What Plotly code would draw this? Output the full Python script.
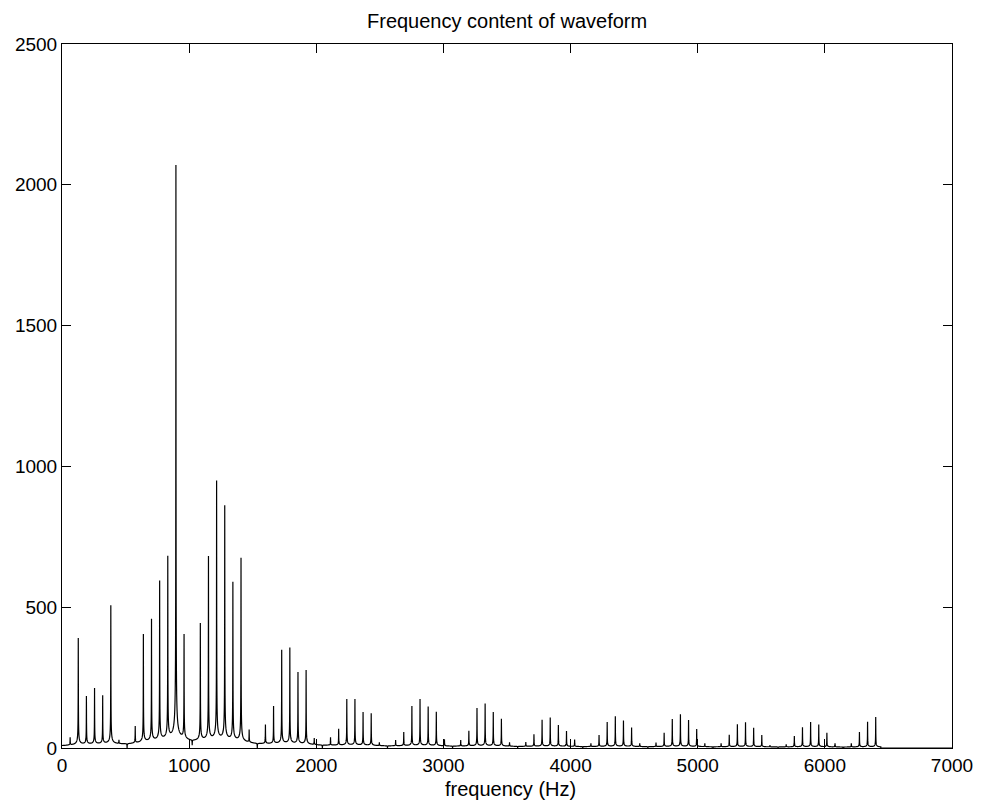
import numpy as np
import plotly.graph_objects as go

# Harmonic peak frequencies (Hz)
peak_freqs = [64, 128, 192, 256, 320, 384, 448, 512, 576, 640,
              704, 768, 832, 896, 960, 1024, 1088, 1152, 1216, 1280,
              1344, 1408, 1472, 1536, 1600, 1664, 1728, 1792, 1856, 1920,
              1984, 2048, 2112, 2176, 2240, 2304, 2368, 2432, 2496, 2560,
              2624, 2688, 2752, 2816, 2880, 2944, 3008, 3072, 3136, 3200,
              3264, 3328, 3392, 3456, 3520, 3584, 3648, 3712, 3776, 3840,
              3904, 3968, 4032, 4096, 4160, 4224, 4288, 4352, 4416, 4480,
              4544, 4608, 4672, 4736, 4800, 4864, 4928, 4992, 5056, 5120,
              5184, 5248, 5312, 5376, 5440, 5504, 5568, 5632, 5696, 5760,
              5824, 5888, 5952, 6016, 6080, 6144, 6208, 6272, 6336, 6400]

# Peak magnitudes
peak_amps = [38, 391, 185, 213, 187, 507, 29, 0, 78, 405,
             459, 595, 683, 2070, 405, 10, 444, 682, 950, 862,
             590, 676, 66, 0, 83, 149, 349, 357, 270, 277,
             35, 0, 38, 68, 174, 174, 128, 123, 20, 0,
             28, 57, 149, 174, 147, 129, 31, 0, 28, 61,
             142, 158, 128, 104, 20, 0, 21, 49, 100, 108,
             82, 60, 30, 0, 17, 46, 92, 113, 98, 73,
             17, 0, 19, 54, 103, 120, 99, 67, 17, 0,
             17, 47, 84, 91, 72, 46, 10, 0, 13, 43,
             74, 92, 83, 54, 17, 0, 17, 57, 93, 110]

x_ticks = [0, 1000, 2000, 3000, 4000, 5000, 6000, 7000]
y_ticks = [0, 500, 1000, 1500, 2000, 2500]

title_text = "Frequency content of waveform"
xlabel_text = "frequency (Hz)"

# Spectral line shape (leakage skirts) built around the read peaks,
# with weights solved so that each peak reaches exactly its read magnitude
g = 0.5
pf = np.array(peak_freqs, dtype=float)
pa = np.array(peak_amps, dtype=float)
M = g / np.sqrt((pf[:, None] - pf[None, :]) ** 2 + g ** 2)
w = np.linalg.solve(M, pa)
f = np.arange(0, 7000.5, 0.5)
mag = np.zeros_like(f)
for fk, wk in zip(pf, w):
    mag += wk * g / np.sqrt((f - fk) ** 2 + g ** 2)
mag = np.clip(mag, 0, None)
mag[f > pf[-1] + 40] = 0.0

fig = go.Figure()
fig.add_trace(go.Scatter(x=f, y=mag, mode="lines",
                         line=dict(color="black", width=1.2, simplify=False),
                         showlegend=False, hoverinfo="skip"))

font_family = "Liberation Sans, Arial, Helvetica, sans-serif"
axis_common = dict(showline=True, linecolor="black", linewidth=1,
                   mirror="ticks", ticks="inside", ticklen=9, tickwidth=1,
                   tickcolor="black", showgrid=False, zeroline=False,
                   tickfont=dict(family=font_family, size=19, color="black"))

fig.update_layout(
    width=985, height=806,
    margin=dict(l=62, r=29, t=44, b=58),
    paper_bgcolor="white", plot_bgcolor="white",
    xaxis=dict(range=[0, 7000], tickmode="array", tickvals=x_ticks,
               ticktext=[str(v) for v in x_ticks], **axis_common),
    yaxis=dict(range=[0, 2500], tickmode="array", tickvals=y_ticks,
               ticktext=[str(v) for v in y_ticks], **axis_common),
    annotations=[
        dict(text=title_text, xref="paper", yref="paper", x=0.5, y=1 + 23 / 704,
             xanchor="center", yanchor="middle", showarrow=False,
             font=dict(family=font_family, size=20, color="black")),
        dict(text=xlabel_text, xref="paper", yref="paper", x=0.5 + 4 / 894, y=-41 / 704,
             xanchor="center", yanchor="middle", showarrow=False,
             font=dict(family=font_family, size=20, color="black")),
    ],
)

fig.write_html("out.html")
